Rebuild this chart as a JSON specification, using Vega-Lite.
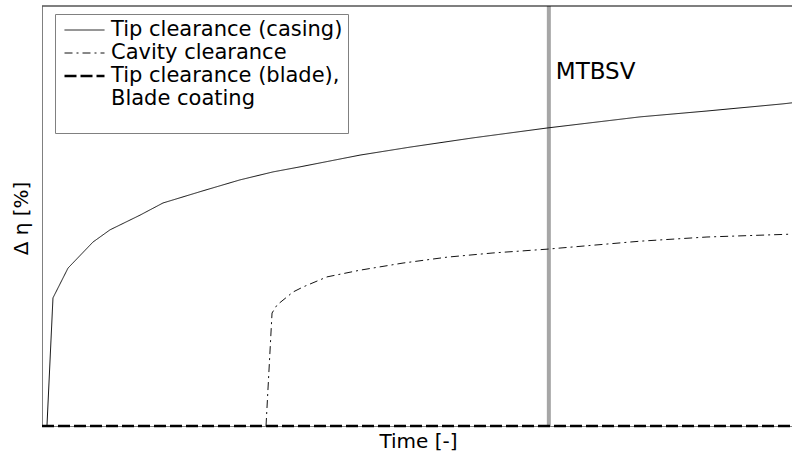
{
  "$schema": "https://vega.github.io/schema/vega-lite/v6.json",
  "width": 752,
  "height": 420,
  "autosize": "none",
  "padding": {"left": 42, "top": 6, "right": 0, "bottom": 34},
  "background": "white",
  "config": {
    "view": {"stroke": null},
    "font": "DejaVu Sans",
    "axisX": {
      "labels": false, "ticks": false, "grid": false,
      "domainColor": "#808080", "domainWidth": 1,
      "titleY": 15, "titleBaseline": "middle", "titleFontSize": 20,
      "titleFontWeight": "normal", "titleColor": "black", "titleFont": "DejaVu Sans"
    },
    "axisY": {
      "labels": false, "ticks": false, "grid": false,
      "domainColor": "#808080", "domainWidth": 1,
      "titleX": -21, "titleY": 212, "titleAngle": 270, "titleAlign": "center",
      "titleBaseline": "middle", "titleFontSize": 20,
      "titleFontWeight": "normal", "titleColor": "black", "titleFont": "DejaVu Sans"
    },
    "legend": {
      "orient": "none",
      "legendX": 13,
      "legendY": 8,
      "padding": 5,
      "strokeColor": "#808080",
      "fillColor": "white",
      "symbolType": "stroke",
      "symbolSize": 1600,
      "clipHeight": 22,
      "symbolOffset": 3,
      "labelOffset": 5,
      "labelFont": "DejaVu Sans",
      "labelFontSize": 21,
      "labelColor": "black",
      "labelLimit": 400,
      "rowPadding": 1,
      "titleOrient": "bottom",
      "titleFontSize": 14,
      "titlePadding": 5
    }
  },
  "datasets": {
    "curves": [
      {"series": "Tip clearance (casing)", "t": 0.66, "v": 0},
      {"series": "Tip clearance (casing)", "t": 1.46, "v": 30.5},
      {"series": "Tip clearance (casing)", "t": 3.46, "v": 37.6},
      {"series": "Tip clearance (casing)", "t": 6.78, "v": 43.8},
      {"series": "Tip clearance (casing)", "t": 9.04, "v": 46.7},
      {"series": "Tip clearance (casing)", "t": 13.03, "v": 50.2},
      {"series": "Tip clearance (casing)", "t": 16.09, "v": 53.1},
      {"series": "Tip clearance (casing)", "t": 21.41, "v": 56.0},
      {"series": "Tip clearance (casing)", "t": 26.33, "v": 58.6},
      {"series": "Tip clearance (casing)", "t": 30.72, "v": 60.5},
      {"series": "Tip clearance (casing)", "t": 34.31, "v": 61.7},
      {"series": "Tip clearance (casing)", "t": 42.29, "v": 64.5},
      {"series": "Tip clearance (casing)", "t": 48.94, "v": 66.4},
      {"series": "Tip clearance (casing)", "t": 57.31, "v": 68.6},
      {"series": "Tip clearance (casing)", "t": 67.15, "v": 70.95},
      {"series": "Tip clearance (casing)", "t": 79.52, "v": 73.6},
      {"series": "Tip clearance (casing)", "t": 88.43, "v": 75.0},
      {"series": "Tip clearance (casing)", "t": 98.54, "v": 76.7},
      {"series": "Tip clearance (casing)", "t": 100, "v": 77.0},
      {"series": "Cavity clearance", "t": 29.79, "v": 0},
      {"series": "Cavity clearance", "t": 30.59, "v": 26.9},
      {"series": "Cavity clearance", "t": 31.25, "v": 28.8},
      {"series": "Cavity clearance", "t": 33.38, "v": 31.9},
      {"series": "Cavity clearance", "t": 34.71, "v": 33.1},
      {"series": "Cavity clearance", "t": 37.9, "v": 35.5},
      {"series": "Cavity clearance", "t": 42.29, "v": 37.1},
      {"series": "Cavity clearance", "t": 48.01, "v": 38.8},
      {"series": "Cavity clearance", "t": 53.86, "v": 40.2},
      {"series": "Cavity clearance", "t": 59.97, "v": 41.2},
      {"series": "Cavity clearance", "t": 67.15, "v": 42.1},
      {"series": "Cavity clearance", "t": 79.52, "v": 44.0},
      {"series": "Cavity clearance", "t": 88.43, "v": 45.0},
      {"series": "Cavity clearance", "t": 100, "v": 45.7},
      {"series": "Tip clearance (blade), Blade coating", "t": 0, "v": 0},
      {"series": "Tip clearance (blade), Blade coating", "t": 100, "v": 0}
    ],
    "annot": [
      {"t": 67.4, "v": 84.3, "label": "MTBSV"}
    ]
  },
  "layer": [
    {
      "data": {"name": "annot"},
      "mark": {"type": "rule", "color": "#a6a6a6", "strokeWidth": 4},
      "encoding": {
        "x": {"field": "t", "type": "quantitative", "title": "Time [-]", "scale": {"domain": [0, 100], "nice": false, "zero": false}}
      }
    },
    {
      "data": {"name": "annot"},
      "mark": {"type": "rule", "color": "black", "strokeWidth": 1.2},
      "encoding": {
        "y": {"datum": 100, "type": "quantitative", "title": "Δ η [%]", "scale": {"domain": [0, 100], "nice": false, "zero": false}}
      }
    },
    {
      "data": {"name": "curves"},
      "mark": {"type": "line", "interpolate": "linear"},
      "encoding": {
        "x": {"field": "t", "type": "quantitative", "title": "Time [-]", "scale": {"domain": [0, 100], "nice": false, "zero": false}},
        "y": {"field": "v", "type": "quantitative", "title": "Δ η [%]", "scale": {"domain": [0, 100], "nice": false, "zero": false}},
        "color": {
          "field": "series", "type": "ordinal", "title": " ", "sort": null,
          "scale": {"domain": ["Tip clearance (casing)", "Cavity clearance", "Tip clearance (blade), Blade coating"], "range": ["#111111", "#111111", "#000000"]},
          "legend": {"labelExpr": "datum.label == 'Tip clearance (blade), Blade coating' ? ['Tip clearance (blade),', 'Blade coating'] : datum.label"}
        },
        "strokeDash": {
          "field": "series", "type": "ordinal", "title": " ", "sort": null,
          "scale": {"domain": ["Tip clearance (casing)", "Cavity clearance", "Tip clearance (blade), Blade coating"], "range": [[1, 0], [8, 4, 2, 4], [12, 4]]},
          "legend": {"labelExpr": "datum.label == 'Tip clearance (blade), Blade coating' ? ['Tip clearance (blade),', 'Blade coating'] : datum.label"}
        },
        "strokeWidth": {
          "field": "series", "type": "ordinal", "title": " ", "sort": null,
          "scale": {"type": "ordinal", "domain": ["Tip clearance (casing)", "Cavity clearance", "Tip clearance (blade), Blade coating"], "range": [1, 1, 2.5]},
          "legend": {"labelExpr": "datum.label == 'Tip clearance (blade), Blade coating' ? ['Tip clearance (blade),', 'Blade coating'] : datum.label"}
        }
      }
    },
    {
      "data": {"name": "annot"},
      "mark": {"type": "text", "align": "left", "baseline": "middle", "dx": 7, "fontSize": 23, "font": "DejaVu Sans", "color": "black"},
      "encoding": {
        "x": {"field": "t", "type": "quantitative", "title": "Time [-]"},
        "y": {"field": "v", "type": "quantitative", "title": "Δ η [%]"},
        "text": {"field": "label"}
      }
    }
  ]
}
